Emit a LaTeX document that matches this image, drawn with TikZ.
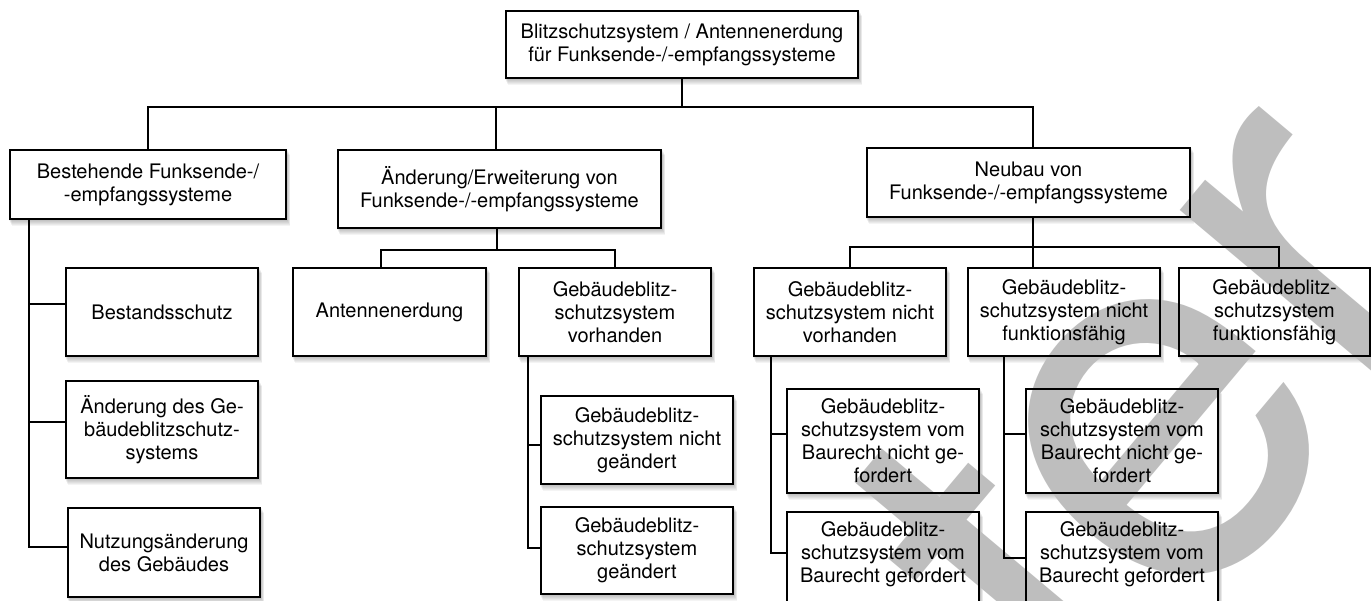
\documentclass[tikz,border=0pt]{standalone}
\usepackage{fontspec}
\setmainfont{TeX Gyre Heros}
\definecolor{wmgray}{RGB}{190,190,190}
\pgfdeclarelayer{bg}
\pgfdeclarelayer{wm}
\pgfsetlayers{bg,wm,main}
\begin{document}
\begin{tikzpicture}[x=1pt,y=-1pt,
  box/.style={draw, line width=2.2pt, inner sep=0pt, align=center,
    font=\fontsize{20}{23}\selectfont},
  conn/.style={line width=2pt}]
\useasboundingbox (0,0) rectangle (1371,601);
% level 0
\node[box, minimum width=352, minimum height=67] (top) at (682,44.5)
  {Blitzschutzsystem / Antennenerdung\\für Funksende-/-empfangssysteme};
% level 1
\node[box, minimum width=276, minimum height=69] (bA) at (148,184.5)
  {Bestehende Funksende-/\\-empfangssysteme};
\node[box, minimum width=323, minimum height=78] (bB) at (499.5,189)
  {Änderung/Erweiterung von\\Funksende-/-empfangssysteme};
\node[box, minimum width=323, minimum height=69] (bC) at (1028.5,182.5)
  {Neubau von\\Funksende-/-empfangssysteme};
% left column
\node[box, minimum width=192, minimum height=88] (eA) at (162,312) {Bestandsschutz};
\node[box, minimum width=192, minimum height=97] (eB) at (162,429.5)
  {Änderung des Ge-\\bäudeblitzschutz-\\systems};
\node[box, minimum width=192, minimum height=89] (eC) at (164,552.5)
  {Nutzungsänderung\\des Gebäudes};
% middle
\node[box, minimum width=193, minimum height=88] (cA) at (389.5,312) {Antennenerdung};
\node[box, minimum width=192, minimum height=88] (cB) at (615,312)
  {Gebäudeblitz-\\schutzsystem\\vorhanden};
\node[box, minimum width=192, minimum height=88] (fA) at (637,440)
  {Gebäudeblitz-\\schutzsystem nicht\\geändert};
\node[box, minimum width=192, minimum height=87] (fB) at (637,550.5)
  {Gebäudeblitz-\\schutzsystem\\geändert};
% right
\node[box, minimum width=192, minimum height=88] (dA) at (850,312)
  {Gebäudeblitz-\\schutzsystem nicht\\vorhanden};
\node[box, minimum width=192, minimum height=88] (dB) at (1064,312)
  {Gebäudeblitz-\\schutzsystem nicht\\funktionsfähig};
\node[box, minimum width=191, minimum height=88] (dC) at (1274.5,312)
  {Gebäudeblitz-\\schutzsystem\\funktionsfähig};
\node[box, minimum width=192, minimum height=104] (gA) at (883,441)
  {Gebäudeblitz-\\schutzsystem vom\\Baurecht nicht ge-\\fordert};
\node[box, minimum width=192, minimum height=104] (gB) at (883,564)
  {Gebäudeblitz-\\schutzsystem vom\\Baurecht gefordert\\\mbox{}};
\node[box, minimum width=192, minimum height=104] (hA) at (1122,441)
  {Gebäudeblitz-\\schutzsystem vom\\Baurecht nicht ge-\\fordert};
\node[box, minimum width=192, minimum height=104] (hB) at (1122,564)
  {Gebäudeblitz-\\schutzsystem vom\\Baurecht gefordert\\\mbox{}};

% shadows and white fills
\begin{pgfonlayer}{bg}
\foreach \n in {top,bA,bB,bC,eA,eB,eC,cA,cB,fA,fB,dA,dB,dC,gA,gB,hA,hB}{
  \foreach \k in {1,...,6}{
    \fill[black,opacity=0.045] ([shift={(0.5*\k,\k)}]\n.north west) rectangle ([shift={(0.5*\k,\k)}]\n.south east);
  }
  \fill[white] (\n.north west) rectangle (\n.south east);
}
\end{pgfonlayer}

% watermark
\begin{pgfonlayer}{wm}
\begin{scope}
\clip (0,0) rectangle (1371,601);
\node[text=wmgray, rotate=50, anchor=base east, inner sep=0pt,
  font=\fontsize{520}{520}\selectfont] (wmark) at (1477,281) {Muster};
\end{scope}
\end{pgfonlayer}

% junction coordinates
\coordinate (j0) at (682,107);
\coordinate (jA) at (148,107);
\coordinate (jB) at (496,107);
\coordinate (jC) at (1033,107);
\coordinate (kB) at (497,250);
\coordinate (kA) at (381,250);
\coordinate (kC) at (615,250);
\coordinate (mC) at (1033,247);
\coordinate (mA) at (850,247);
\coordinate (mD) at (1279,247);
\coordinate (l1) at (29,304);
\coordinate (l2) at (29,422);
\coordinate (l3) at (29,547);
\coordinate (p1) at (528,445);
\coordinate (p2) at (528,548);
\coordinate (q1) at (771,434);
\coordinate (q2) at (771,553);
\coordinate (r1) at (1004,434);
\coordinate (r2) at (1004,558);

% connectors
\draw[conn] (top.south) -- (j0);
\draw[conn] (bA.north) -- (jA) -- (jC) -- (bC.north -| jC);
\draw[conn] (bB.north -| jB) -- (jB);
\draw[conn] (bB.south -| kB) -- (kB);
\draw[conn] (cA.north -| kA) -- (kA) -- (kC) -- (cB.north);
\draw[conn] (bC.south -| mC) -- (dB.north -| mC);
\draw[conn] (dA.north) -- (mA) -- (mD) -- (dC.north -| mD);
% left column
\draw[conn] (bA.south -| l1) -- (l3) -- (eC.west |- l3);
\draw[conn] (l1) -- (eA.west |- l1);
\draw[conn] (l2) -- (eB.west |- l2);
% middle sub
\draw[conn] (cB.south -| p2) -- (p2) -- (fB.west |- p2);
\draw[conn] (p1) -- (fA.west |- p1);
% right subs
\draw[conn] (dA.south -| q2) -- (q2) -- (gB.west |- q2);
\draw[conn] (q1) -- (gA.west |- q1);
\draw[conn] (dB.south -| r2) -- (r2) -- (hB.west |- r2);
\draw[conn] (r1) -- (hA.west |- r1);
\end{tikzpicture}
\end{document}
